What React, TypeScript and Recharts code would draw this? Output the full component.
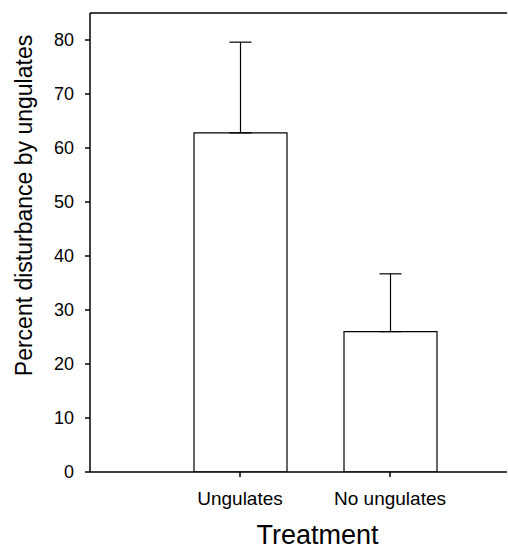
import React from "react";
import { BarChart, Bar, XAxis, YAxis, ErrorBar, ReferenceLine, Label } from "recharts";

const categories = ["Ungulates", "No ungulates"];
const means = [62.8, 26.0];
const upperErrors = [16.8, 10.7];
const yTicks = [0, 10, 20, 30, 40, 50, 60, 70, 80];

const data = categories.map((c, i) => ({ name: c, value: means[i], err: [0, upperErrors[i]] }));

const FONT = "'Liberation Sans', Arial, sans-serif";

const YTitle = (props: any) => {
  const vb = props.viewBox;
  const x = vb.x + 24;
  const y = vb.y + vb.height / 2 - 37;
  return (
    <text x={x} y={y} transform={`rotate(-90, ${x}, ${y})`} textAnchor="middle" dominantBaseline="central"
      fontFamily={FONT} fontSize={23} fill="#000">
      Percent disturbance by ungulates
    </text>
  );
};

const XTitle = (props: any) => {
  const vb = props.viewBox;
  const x = vb.x + vb.width / 2 + 19;
  const y = vb.y + 72;
  return (
    <text x={x} y={y} textAnchor="middle" fontFamily={FONT} fontSize={27} fill="#000">
      Treatment
    </text>
  );
};

export default function App() {
  return (
    <div style={{ position: "absolute", left: 0, top: 0, width: 508, height: 550, background: "#fff" }}>
      <BarChart width={508} height={550} data={data} margin={{ top: 13, right: 1, left: 0, bottom: 0 }} barSize={93}>
        <XAxis dataKey="name" height={78} padding={{ left: 75, right: 42 }} stroke="#000" strokeWidth={1.5}
          tickSize={5} tickMargin={15} tick={{ fill: "#000", fontSize: 19, fontFamily: FONT }} interval={0}>
          <Label content={<XTitle />} />
        </XAxis>
        <YAxis width={90} domain={[0, 85]} ticks={yTicks} stroke="#000" strokeWidth={1.5} tickSize={5} tickMargin={11}
          tick={{ fill: "#000", fontSize: 18, fontFamily: FONT }} allowDataOverflow>
          <Label content={<YTitle />} />
        </YAxis>
        <ReferenceLine y={85} stroke="#000" strokeWidth={1.5} />
        <Bar dataKey="value" fill="#fff" stroke="#000" strokeWidth={1.2} isAnimationActive={false}>
          <ErrorBar dataKey="err" direction="y" width={11} stroke="#000" strokeWidth={1.2} isAnimationActive={false} />
        </Bar>
      </BarChart>
    </div>
  );
}
